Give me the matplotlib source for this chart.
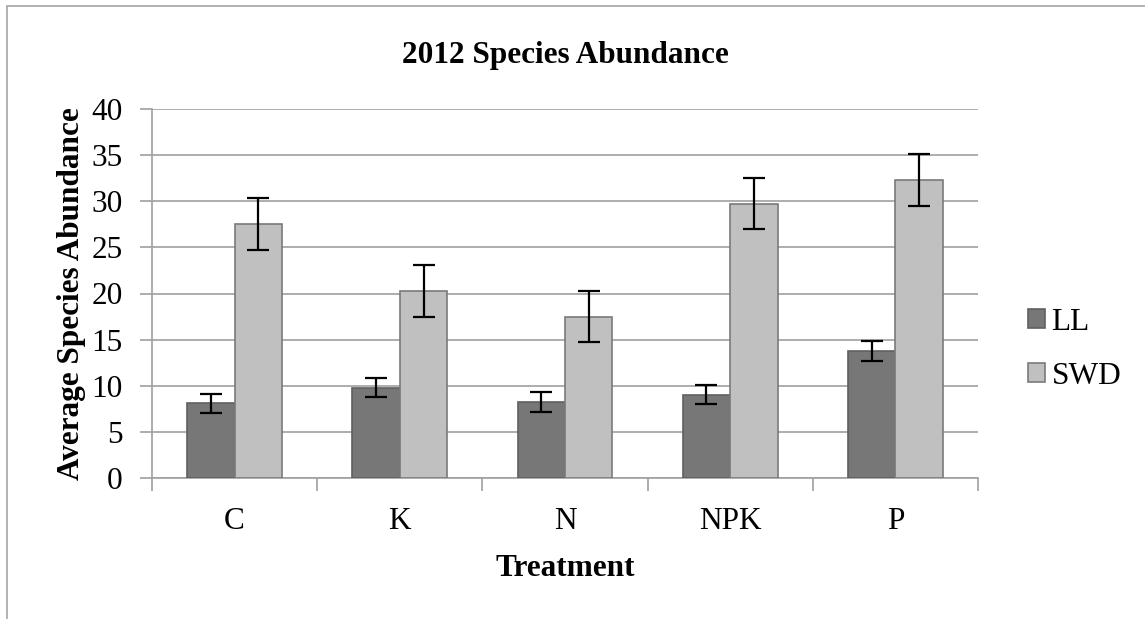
import numpy as np
import matplotlib.pyplot as plt
from matplotlib.patches import Rectangle

plt.rcParams['font.family'] = ['Liberation Serif', 'DejaVu Serif']

# data
treatments = ["C", "K", "N", "NPK", "P"]
ll_mean = [8.1, 9.8, 8.25, 9.05, 13.75]
ll_err = [1.05, 1.05, 1.05, 1.05, 1.05]
swd_mean = [27.55, 20.25, 17.5, 29.75, 32.3]
swd_err = [2.8, 2.8, 2.8, 2.8, 2.8]

W, H = 1145, 619
fs = 22.5

fig = plt.figure(figsize=(W / 100, H / 100), dpi=100)
ax = fig.add_axes([152 / W, 1 - 478 / H, (978 - 152) / W, (478 - 109) / H])

# outer chart border (only left/top edges fall inside the picture)
fig.patches.append(Rectangle((7 / W, -0.05), 1.1, 1 - 6 / H + 0.05,
                             transform=fig.transFigure, fill=False,
                             edgecolor='#a6a6a6', linewidth=1.2))

x = np.arange(len(treatments))
w = 0.287
err_kw = dict(ecolor='black', elinewidth=1.6, capsize=8, capthick=1.6)
ax.bar(x - w / 2, ll_mean, w, yerr=ll_err, color='#777777', edgecolor='#606060',
       linewidth=1.2, label='LL', error_kw=err_kw, zorder=3)
ax.bar(x + w / 2, swd_mean, w, yerr=swd_err, color='#c0c0c0', edgecolor='#7a7a7a',
       linewidth=1.2, label='SWD', error_kw=err_kw, zorder=3)

ax.set_xlim(-0.5, len(treatments) - 0.5)
ax.set_ylim(0, 40)
ax.set_yticks(range(0, 41, 5))
ax.set_xticks(x)
ax.set_xticklabels(treatments)
ax.set_xticks(np.arange(-0.5, len(treatments)), minor=True)
ax.tick_params(axis='x', which='major', length=0, pad=21, labelsize=fs)
ax.tick_params(axis='x', which='minor', length=9, width=1.2, color='#a0a0a0', direction='out')
ax.tick_params(axis='y', length=9, width=1.2, color='#a0a0a0', direction='out', pad=12, labelsize=fs)

ax.grid(axis='y', color='#a0a0a0', linewidth=1.2, zorder=0)
for side in ['top', 'right']:
    ax.spines[side].set_visible(False)
for side in ['left', 'bottom']:
    ax.spines[side].set_color('#a0a0a0')
    ax.spines[side].set_linewidth(1.2)

ax.set_title('2012 Species Abundance', fontsize=fs, fontweight='bold', pad=33)
ax.set_xlabel('Treatment', fontsize=fs, fontweight='bold', labelpad=13)
ax.set_ylabel('Average Species Abundance', fontsize=fs, fontweight='bold', labelpad=4)

ax.legend(loc='center left', bbox_to_anchor=(1028 / W, 1 - 349 / H),
          bbox_transform=fig.transFigure, frameon=False, fontsize=fs, borderpad=0,
          borderaxespad=0, handlelength=0.55, handleheight=0.55, handletextpad=0.2,
          labelspacing=0.8)

fig.savefig('out.png', dpi=100)
